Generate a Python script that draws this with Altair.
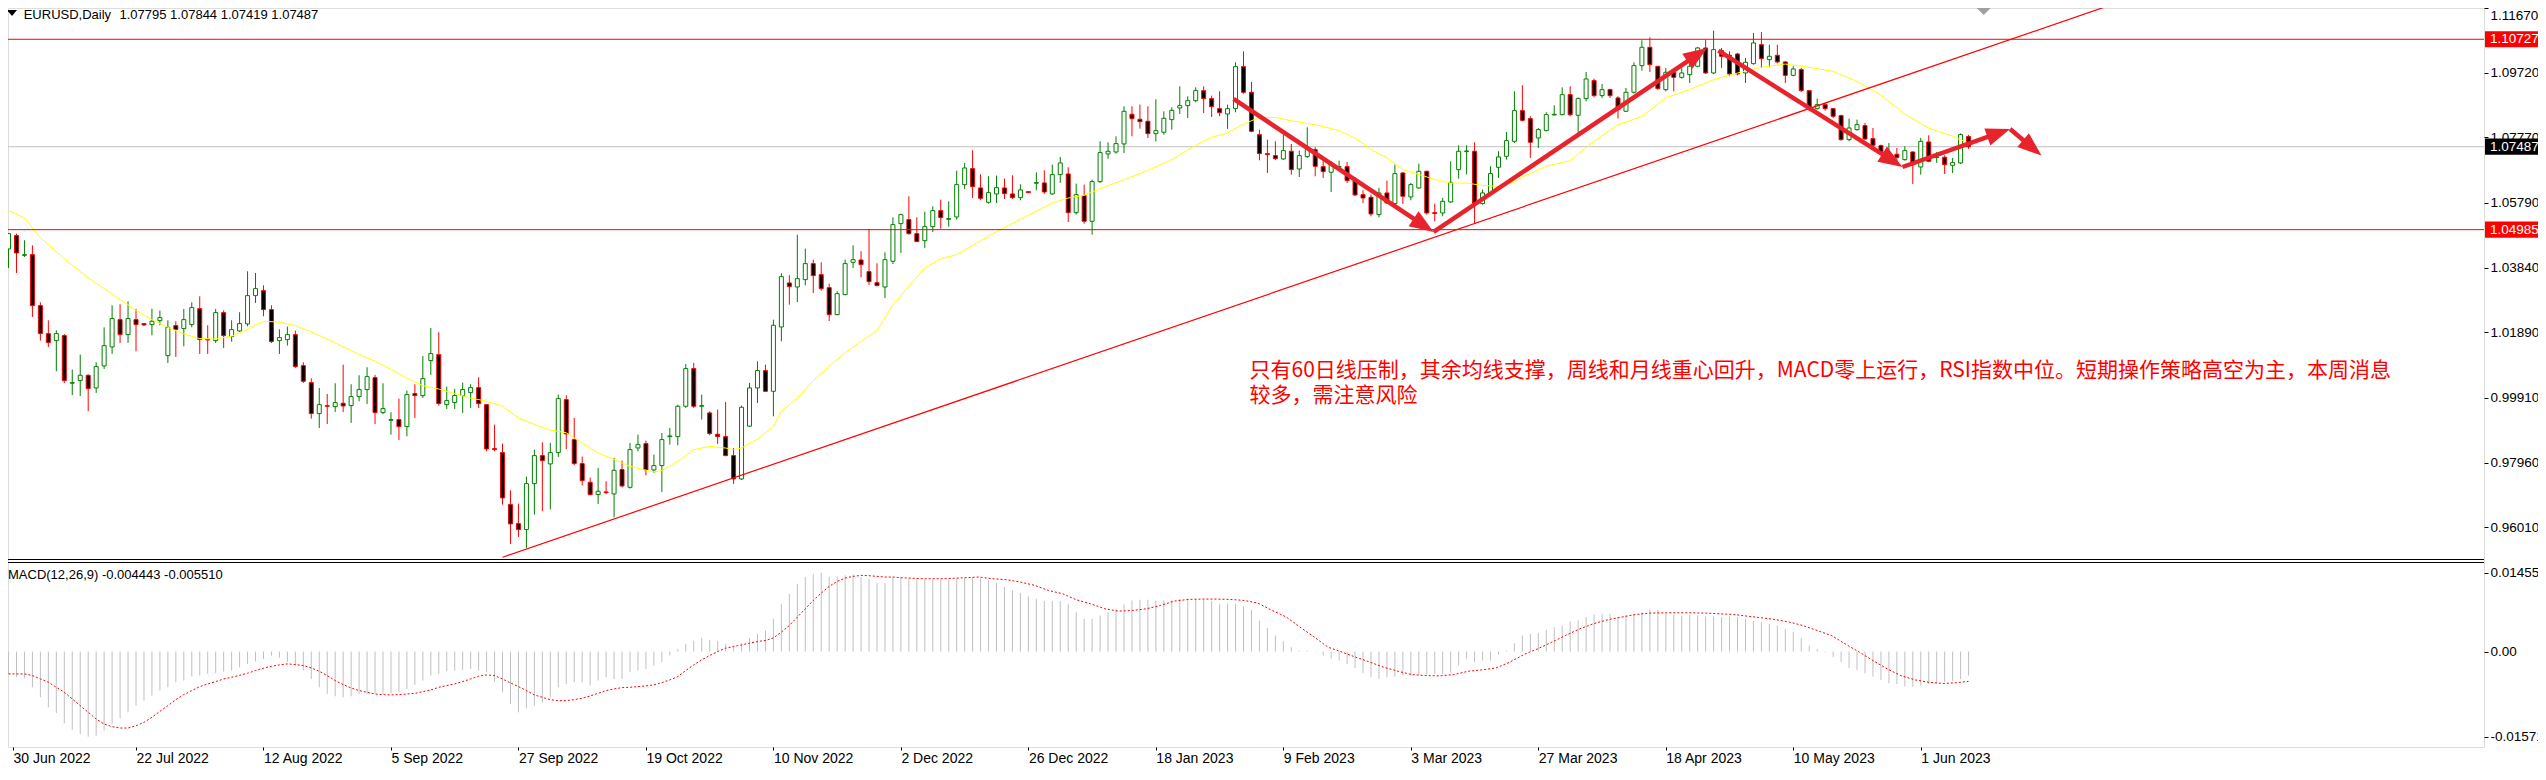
import math
import altair as alt
import pandas as pd

# ---------------- values ----------------
opens = [
    1.04404, 1.04806, 1.04210, 1.04233, 1.02695, 1.01850, 1.01639, 1.01790, 1.00353, 1.00433,
    1.00594, 1.00212, 1.00875, 1.01448, 1.02273, 1.01820, 1.02273, 1.02152, 1.02122, 1.02242,
    1.01187, 1.02092, 1.02001, 1.02122, 1.02604, 1.01679, 1.01639, 1.02484, 1.01760, 1.01930,
    1.02142, 1.02996, 1.03147, 1.02574, 1.01639, 1.01669, 1.01820, 1.00885, 1.00373, 0.99438,
    0.99679, 0.99649, 0.99750, 0.99679, 0.99950, 1.00162, 1.00524, 0.99468, 0.99237, 0.99257,
    0.99046, 1.00041, 0.99981, 1.01036, 1.01217, 0.99709, 0.99770, 0.99981, 1.00071, 1.00222,
    0.99709, 0.98382, 0.98262, 0.96694, 0.96121, 0.95940, 0.97327, 0.98171, 0.97920, 0.98262,
    0.99860, 0.98654, 0.97930, 0.97367, 0.96995, 0.97076, 0.97015, 0.97749, 0.97216, 0.98402,
    0.98533, 0.97739, 0.97870, 0.98744, 0.98744, 0.99659, 1.00795, 0.99659, 0.99458, 0.98815,
    0.98744, 0.98171, 0.97467, 0.99060, 1.00212, 1.00735, 1.00111, 1.02051, 1.03378, 1.03257,
    1.03478, 1.03961, 1.03630, 1.03237, 1.02423, 1.03026, 1.04001, 1.04071, 1.03720, 1.03388,
    1.03257, 1.04031, 1.05167, 1.05287, 1.04865, 1.04654, 1.05076, 1.05559, 1.05297, 1.05368,
    1.06343, 1.06826, 1.06243, 1.05811, 1.06062, 1.06243, 1.06062, 1.05951, 1.06132, 1.06384,
    1.06394, 1.06062, 1.06645, 1.06665, 1.05499, 1.06012, 1.05238, 1.06434, 1.07268, 1.07328,
    1.07570, 1.08464, 1.08314, 1.08253, 1.07881, 1.07922, 1.08304, 1.08655, 1.08726, 1.08876,
    1.09178, 1.08937, 1.08635, 1.08474, 1.08635, 1.09902, 1.09128, 1.07851, 1.07278, 1.07218,
    1.07117, 1.07349, 1.06816, 1.07188, 1.07399, 1.06886, 1.06716, 1.06866, 1.06886, 1.06464,
    1.06042, 1.05962, 1.05439, 1.06092, 1.05771, 1.06695, 1.05972, 1.06243, 1.06746, 1.05500,
    1.05489, 1.05821, 1.06796, 1.07339, 1.07349, 1.05771, 1.06092, 1.06866, 1.07198, 1.07650,
    1.08575, 1.08334, 1.07751, 1.07972, 1.08444, 1.08454, 1.09057, 1.08434, 1.08937, 1.09480,
    1.09027, 1.09208, 1.08957, 1.08555, 1.09128, 1.09932, 1.10485, 1.09912, 1.09208, 1.09731,
    1.09580, 1.09661, 1.09912, 1.10465, 1.09711, 1.10384, 1.10244, 1.10284, 1.09711, 1.09992,
    1.10565, 1.10113, 1.10244, 1.10043, 1.09640, 1.09811, 1.09178, 1.08635, 1.08756, 1.08635,
    1.08424, 1.07700, 1.08002, 1.08123, 1.07730, 1.07519, 1.07258, 1.07260, 1.07097, 1.07328,
    1.06876, 1.07630, 1.07158, 1.07168, 1.06926, 1.06997, 1.07795,
]
highs = [
    1.04886, 1.04866, 1.04665, 1.04514, 1.02795, 1.02252, 1.01951, 1.01840, 1.00765, 1.01217,
    1.00620, 1.00986, 1.02041, 1.02705, 1.02735, 1.02825, 1.02594, 1.02162, 1.02604, 1.02544,
    1.02252, 1.02222, 1.02594, 1.02795, 1.02976, 1.02102, 1.02594, 1.02554, 1.02252, 1.02494,
    1.03730, 1.03680, 1.03308, 1.02705, 1.01981, 1.02061, 1.01941, 1.00986, 1.00503, 1.00212,
    1.00031, 1.00353, 1.00916, 1.00323, 1.00594, 1.00835, 1.00604, 1.00353, 0.99478, 0.99890,
    1.00132, 1.00323, 1.01177, 1.02021, 1.01890, 1.00252, 1.00182, 1.00373, 1.00323, 1.00534,
    0.99729, 0.99106, 0.98533, 0.97126, 0.96724, 0.97538, 0.98352, 0.98573, 0.98553, 1.00010,
    0.99990, 0.99307, 0.98141, 0.97508, 0.97799, 0.97397, 0.98101, 0.98021, 0.98553, 0.98804,
    0.98623, 0.98201, 0.98855, 0.99006, 0.99709, 1.00935, 1.00966, 1.00010, 0.99508, 0.99558,
    0.99790, 0.98402, 0.99679, 1.00363, 1.01016, 1.00915, 1.02272, 1.03669, 1.03610, 1.04835,
    1.04413, 1.04081, 1.04001, 1.03357, 1.03126, 1.04081, 1.04513, 1.04333, 1.05006, 1.03971,
    1.04302, 1.05358, 1.05468, 1.05991, 1.05358, 1.05529, 1.05690, 1.05890, 1.05840, 1.06766,
    1.06997, 1.07379, 1.06655, 1.06595, 1.06615, 1.06524, 1.06625, 1.06353, 1.06152, 1.06715,
    1.06776, 1.06947, 1.07178, 1.06866, 1.06374, 1.06343, 1.06494, 1.07650, 1.07620, 1.07801,
    1.08706, 1.08706, 1.08756, 1.08706, 1.08917, 1.08555, 1.08676, 1.09309, 1.09007, 1.09279,
    1.09309, 1.09027, 1.09158, 1.08756, 1.10033, 1.10364, 1.09439, 1.08002, 1.07700, 1.07650,
    1.07851, 1.07570, 1.07369, 1.08073, 1.07469, 1.07067, 1.07047, 1.07067, 1.07027, 1.06565,
    1.06173, 1.06042, 1.06243, 1.06464, 1.06947, 1.06716, 1.06394, 1.06977, 1.06766, 1.05771,
    1.05942, 1.07047, 1.07530, 1.07530, 1.07620, 1.06193, 1.06897, 1.07349, 1.07931, 1.09158,
    1.09339, 1.08404, 1.08052, 1.08525, 1.08736, 1.09279, 1.09309, 1.08977, 1.09741, 1.09540,
    1.09379, 1.09238, 1.09007, 1.09258, 1.10033, 1.10696, 1.10786, 1.09912, 1.09862, 1.09862,
    1.09862, 1.10012, 1.10495, 1.10716, 1.10987, 1.10465, 1.10364, 1.10314, 1.10163, 1.10917,
    1.10947, 1.10565, 1.10565, 1.10063, 1.09912, 1.09862, 1.09178, 1.08937, 1.08806, 1.08655,
    1.08454, 1.08334, 1.08304, 1.08203, 1.08052, 1.07550, 1.07600, 1.07450, 1.07499, 1.07349,
    1.07751, 1.07831, 1.07330, 1.07228, 1.07148, 1.07891, 1.07844,
]
lows = [
    1.03831, 1.03680, 1.04162, 1.02353, 1.01639, 1.01448, 1.00715, 1.00363, 0.99993, 0.99971,
    0.99508, 1.00061, 1.00785, 1.01237, 1.01569, 1.01569, 1.01318, 1.02082, 1.01800, 1.02102,
    1.00966, 1.01147, 1.01468, 1.02041, 1.01237, 1.01237, 1.01569, 1.01418, 1.01609, 1.01900,
    1.02072, 1.02775, 1.02373, 1.01569, 1.01237, 1.01488, 1.00815, 1.00363, 0.99287, 0.99006,
    0.99126, 0.99488, 0.99488, 0.99156, 0.99810, 0.99730, 0.99126, 0.99428, 0.98805, 0.98644,
    0.98754, 0.99307, 0.99910, 1.00604, 0.99679, 0.99579, 0.99579, 0.99458, 0.99609, 0.99609,
    0.98302, 0.98302, 0.96694, 0.95508, 0.95719, 0.95387, 0.96392, 0.96498, 0.96548, 0.98131,
    0.98362, 0.97880, 0.97276, 0.96975, 0.96714, 0.97015, 0.96311, 0.97216, 0.97176, 0.98302,
    0.97578, 0.97648, 0.97076, 0.98503, 0.98483, 0.99609, 0.99609, 0.99257, 0.98785, 0.98523,
    0.98151, 0.97317, 0.97437, 0.99040, 0.99759, 1.00091, 0.99357, 1.01619, 1.02725, 1.02805,
    1.03307, 1.03076, 1.03146, 1.02232, 1.02402, 1.03006, 1.03830, 1.03548, 1.03317, 1.03277,
    1.02925, 1.03950, 1.04282, 1.04835, 1.04614, 1.04433, 1.04916, 1.05016, 1.05076, 1.05288,
    1.06213, 1.05941, 1.05871, 1.05770, 1.05790, 1.05911, 1.05911, 1.05871, 1.06092, 1.06173,
    1.06062, 1.06042, 1.06394, 1.05217, 1.05439, 1.05167, 1.04836, 1.06394, 1.07127, 1.07278,
    1.07298, 1.07801, 1.08032, 1.07750, 1.07650, 1.07851, 1.08002, 1.08474, 1.08354, 1.08826,
    1.08504, 1.08384, 1.08404, 1.08022, 1.08525, 1.09088, 1.07922, 1.07077, 1.06695, 1.07087,
    1.07087, 1.06645, 1.06575, 1.07148, 1.06595, 1.06545, 1.06122, 1.06796, 1.06394, 1.05992,
    1.05791, 1.05389, 1.05359, 1.05761, 1.05741, 1.05761, 1.05871, 1.06213, 1.05439, 1.05238,
    1.05389, 1.05791, 1.06525, 1.06650, 1.05180, 1.05741, 1.06062, 1.06545, 1.07097, 1.07600,
    1.08253, 1.07148, 1.07449, 1.07952, 1.08434, 1.08434, 1.08404, 1.07901, 1.08856, 1.08977,
    1.08957, 1.08957, 1.08334, 1.08535, 1.09088, 1.09781, 1.09741, 1.09208, 1.09158, 1.09158,
    1.09540, 1.09409, 1.09882, 1.09681, 1.09681, 1.09862, 1.09610, 1.09640, 1.09409, 1.09962,
    1.09862, 1.09882, 1.10002, 1.09409, 1.09610, 1.09138, 1.08555, 1.08605, 1.08575, 1.08354,
    1.07670, 1.07650, 1.07972, 1.07690, 1.07449, 1.07248, 1.07148, 1.07050, 1.07067, 1.06363,
    1.06645, 1.07017, 1.07000, 1.06665, 1.06695, 1.06967, 1.07419,
]
closes = [
    1.04866, 1.04283, 1.04230, 1.02695, 1.01850, 1.01579, 1.01850, 1.00433, 1.00373, 1.00594,
    1.00192, 1.00855, 1.01488, 1.02303, 1.01820, 1.02303, 1.02122, 1.02112, 1.02222, 1.02333,
    1.02041, 1.01971, 1.02273, 1.02634, 1.01669, 1.01659, 1.02484, 1.01790, 1.01971, 1.02152,
    1.02996, 1.03207, 1.02574, 1.01609, 1.01730, 1.01820, 1.00855, 1.00413, 0.99438, 0.99709,
    0.99659, 0.99770, 0.99669, 0.99950, 1.00162, 1.00554, 0.99468, 0.99589, 0.99257, 0.99046,
    1.00011, 0.99981, 1.00493, 1.01248, 0.99740, 0.99830, 0.99981, 1.00162, 1.00222, 0.99740,
    0.98372, 0.98352, 0.96895, 0.96111, 0.95940, 0.97327, 0.98171, 0.98020, 0.98262, 0.99890,
    0.98825, 0.97930, 0.97417, 0.96995, 0.97096, 0.97055, 0.97729, 0.97256, 0.98352, 0.98503,
    0.97739, 0.97870, 0.98654, 0.98764, 0.99659, 1.00795, 0.99659, 0.99679, 0.98835, 0.98744,
    0.98171, 0.97467, 0.99629, 1.00212, 1.00735, 1.00111, 1.02102, 1.03568, 1.03268, 1.03508,
    1.03961, 1.03599, 1.03207, 1.02423, 1.03056, 1.03961, 1.04081, 1.03930, 1.03418, 1.03297,
    1.04081, 1.05137, 1.05438, 1.04865, 1.04624, 1.05076, 1.05559, 1.05348, 1.05318, 1.06343,
    1.06846, 1.06283, 1.05931, 1.06102, 1.06253, 1.06072, 1.05951, 1.06183, 1.06102, 1.06404,
    1.06122, 1.06645, 1.06997, 1.05499, 1.06042, 1.05238, 1.06434, 1.07308, 1.07349, 1.07580,
    1.08555, 1.08334, 1.08243, 1.07881, 1.07972, 1.08344, 1.08585, 1.08726, 1.08876, 1.09178,
    1.08937, 1.08696, 1.08515, 1.08635, 1.09902, 1.09128, 1.07952, 1.07278, 1.07248, 1.07127,
    1.07369, 1.06796, 1.07218, 1.07399, 1.06896, 1.06736, 1.06997, 1.06886, 1.06464, 1.06032,
    1.05941, 1.05459, 1.06092, 1.05791, 1.06675, 1.05992, 1.06344, 1.06746, 1.05489, 1.05470,
    1.05841, 1.06414, 1.07349, 1.07359, 1.05750, 1.06092, 1.06675, 1.07178, 1.07670, 1.08575,
    1.08283, 1.07620, 1.08002, 1.08454, 1.08464, 1.09057, 1.08454, 1.08937, 1.09530, 1.09027,
    1.09208, 1.09027, 1.08605, 1.09128, 1.09932, 1.10485, 1.09962, 1.09238, 1.09731, 1.09580,
    1.09711, 1.09912, 1.10465, 1.09711, 1.10415, 1.10213, 1.09681, 1.09681, 1.10033, 1.10616,
    1.10143, 1.10213, 1.10043, 1.09640, 1.09831, 1.09178, 1.08675, 1.08756, 1.08635, 1.08404,
    1.07700, 1.08052, 1.08153, 1.07720, 1.07529, 1.07328, 1.07278, 1.07160, 1.07369, 1.06946,
    1.07650, 1.07047, 1.07178, 1.06946, 1.07007, 1.07851, 1.07487,
]

# yellow moving-average line (bar index, price)
ma_idx = [0, 2, 4, 7, 10, 12, 14, 16, 18, 20, 22, 24, 26, 28, 30, 31, 32, 34, 36, 38,
          40, 42, 44, 46, 48, 50, 52, 54, 56, 58, 60, 62, 64, 66, 68, 70, 72, 74, 76, 78,
          80, 81, 82, 84, 86, 88, 90, 91, 92, 94, 96, 97, 99, 101, 103, 105, 107, 109, 111, 113,
          115, 117, 119, 121, 123, 125, 128, 131, 133, 135, 137, 140, 143, 146, 149, 151, 153, 155, 157, 159,
          161, 163, 165, 167, 169, 171, 173, 175, 177, 179, 181, 183, 185, 187, 189, 190, 193, 196, 199, 202,
          205, 208, 211, 214, 217, 220, 223, 226, 229, 232, 235, 238, 241, 244, 246]
ma_val = [1.0556, 1.0534, 1.0474, 1.0411, 1.0353, 1.0321, 1.0288, 1.0255, 1.0227, 1.0204,
          1.0184, 1.0170, 1.0169, 1.0177, 1.0197, 1.0212, 1.0222, 1.0220, 1.0209, 1.0190,
          1.0169, 1.0145, 1.0122, 1.0102, 1.0077, 1.0051, 1.0028, 1.0018, 1.0004, 0.9991,
          0.9981, 0.9966, 0.9931, 0.9911, 0.9894, 0.9886, 0.9855, 0.9825, 0.9805, 0.9785,
          0.9773, 0.9768, 0.9772, 0.9800, 0.9835, 0.9845, 0.9840, 0.9835, 0.9840, 0.9867,
          0.9905, 0.9951, 0.9991, 1.0043, 1.0087, 1.0127, 1.0162, 1.0194, 1.0272, 1.0328,
          1.0383, 1.0411, 1.0423, 1.0451, 1.0479, 1.0505, 1.0542, 1.0579, 1.0594, 1.0602,
          1.0622, 1.0649, 1.0677, 1.0710, 1.0753, 1.0777, 1.0790, 1.0817, 1.0837, 1.0837,
          1.0827, 1.0819, 1.0810, 1.0797, 1.0775, 1.0740, 1.0715, 1.0680, 1.0665, 1.0650,
          1.0639, 1.0639, 1.0632, 1.0629, 1.0642, 1.0657, 1.0690, 1.0707, 1.0765, 1.0815,
          1.0840, 1.0896, 1.0921, 1.0951, 1.0971, 1.0988, 1.0998, 1.0988, 1.0976, 1.0946,
          1.0904, 1.0847, 1.0805, 1.0780, 1.0760]

# MACD(12,26,9) main values (histogram), one per bar
macd_main = [
    -0.00413, -0.00475, -0.00493, -0.00660, -0.00845, -0.01030, -0.01134, -0.01325, -0.01443, -0.01523,
    -0.015719, -0.01554, -0.01461, -0.01338, -0.01233, -0.01122, -0.00999, -0.00906, -0.00814, -0.00721,
    -0.00660, -0.00567, -0.00536, -0.00462, -0.00444, -0.00413, -0.00401, -0.00370, -0.00351, -0.00290,
    -0.00228, -0.00185, -0.00136, -0.00074, -0.00117, -0.00197, -0.00259, -0.00351, -0.00506, -0.00660,
    -0.00783, -0.00826, -0.00845, -0.00826, -0.00783, -0.00783, -0.00771, -0.00783, -0.00771, -0.00752,
    -0.00690, -0.00616, -0.00536, -0.00444, -0.00413, -0.00364, -0.00351, -0.00339, -0.00321, -0.00351,
    -0.00382, -0.00567, -0.00752, -0.00968, -0.01122, -0.01048, -0.00999, -0.00937, -0.00845, -0.00660,
    -0.00598, -0.00567, -0.00567, -0.00629, -0.00536, -0.00475, -0.00506, -0.00506, -0.00382, -0.00351,
    -0.00321, -0.00259, -0.00197, -0.00074, 0.00049, 0.00142, 0.00203, 0.00253, 0.00216, 0.00191,
    0.00142, 0.00111, 0.00154, 0.00253, 0.00327, 0.00388, 0.00604, 0.00882, 0.01067, 0.01251,
    0.01375, 0.01436, 0.014551, 0.01375, 0.01387, 0.01406, 0.01424, 0.01375, 0.01344, 0.01264,
    0.01264, 0.01375, 0.01375, 0.01344, 0.01332, 0.01325, 0.01325, 0.01325, 0.01325, 0.01344,
    0.01362, 0.01375, 0.01344, 0.01313, 0.01264, 0.01190, 0.01128, 0.01079, 0.01017, 0.00974,
    0.00931, 0.00931, 0.00931, 0.00882, 0.00727, 0.00604, 0.00604, 0.00666, 0.00727, 0.00789,
    0.00869, 0.00943, 0.00956, 0.00956, 0.00943, 0.00943, 0.00956, 0.00974, 0.00974, 0.00974,
    0.00956, 0.00931, 0.00882, 0.00882, 0.00882, 0.00832, 0.00771, 0.00573, 0.00432, 0.00296,
    0.00191, 0.00080, 0.00018, 0.00018, -0.00010, -0.00074, -0.00136, -0.00166, -0.00228, -0.00302,
    -0.00401, -0.00475, -0.00506, -0.00475, -0.00462, -0.00444, -0.00444, -0.00425, -0.00425, -0.00413,
    -0.00413, -0.00401, -0.00259, -0.00136, -0.00197, -0.00166, -0.00166, -0.00055, 0.00018, 0.00154,
    0.00296, 0.00327, 0.00339, 0.00401, 0.00450, 0.00481, 0.00555, 0.00573, 0.00635, 0.00684,
    0.00697, 0.00697, 0.00635, 0.00666, 0.00697, 0.00727, 0.00789, 0.00771, 0.00697, 0.00684,
    0.00666, 0.00684, 0.00666, 0.00647, 0.00647, 0.00635, 0.00647, 0.00635, 0.00604, 0.00561,
    0.00543, 0.00512, 0.00481, 0.00419, 0.00358, 0.00253, 0.00111, 0.00049, -0.00012, -0.00105,
    -0.00197, -0.00302, -0.00339, -0.00401, -0.00462, -0.00524, -0.00586, -0.00598, -0.00647, -0.00647,
    -0.00629, -0.00598, -0.00586, -0.00560, -0.00540, -0.00510, -0.004443,
]

# MACD signal (red dotted), read at these bar positions
signal_idx = list(range(112)) + [
    112.1, 114.8, 117.4, 120.0, 121.8, 123.5, 125.3, 127.0, 128.8, 130.5,
    132.3, 134.0, 135.8, 137.6, 139.3, 141.1, 142.8, 144.6, 146.3, 148.1,
    149.8, 151.6, 153.3, 155.1, 156.8, 158.6, 160.4, 162.1, 163.9, 165.6,
    167.4, 169.1, 170.9, 172.6, 174.4, 176.1, 177.9, 179.6, 181.4, 183.2,
    184.9, 186.7, 188.4, 190.2, 191.9, 193.7, 195.4, 197.2, 198.9, 200.7,
    202.4, 204.2, 205.9, 207.7, 209.5, 211.2, 213.0, 214.7, 216.5, 218.2,
    220.0, 221.7, 223.5, 225.2, 227.0, 228.8, 230.5, 232.3, 234.0, 235.8,
    237.5, 239.3, 241.0, 242.8, 244.5, 246.0]
signal_val = [
    -0.00413, -0.00413, -0.00413, -0.00444, -0.00506, -0.00567, -0.0066, -0.00752, -0.00875, -0.00999,
    -0.01122, -0.01245, -0.01338, -0.01387, -0.01412, -0.01412, -0.01369, -0.01307, -0.01214, -0.01104,
    -0.00999, -0.00888, -0.00795, -0.00721, -0.00647, -0.00598, -0.00555, -0.00506, -0.00475, -0.00438,
    -0.00401, -0.00351, -0.00308, -0.00271, -0.00247, -0.00228, -0.0024, -0.00259, -0.00302, -0.00364,
    -0.00444, -0.00536, -0.0061, -0.00672, -0.00721, -0.00752, -0.00783, -0.00795, -0.00801, -0.00795,
    -0.00783, -0.00771, -0.0074, -0.00709, -0.0066, -0.00629, -0.00598, -0.00555, -0.00506, -0.00456,
    -0.00432, -0.00444, -0.00506, -0.0058, -0.00647, -0.00721, -0.00801, -0.00845, -0.00888, -0.00906,
    -0.00906, -0.00888, -0.00863, -0.0082, -0.00771, -0.00721, -0.0069, -0.00666, -0.0066, -0.00647,
    -0.00635, -0.00616, -0.00573, -0.00524, -0.00462, -0.00351, -0.00247, -0.00154, -0.00074, 0.0,
    0.00062, 0.00092, 0.00123, 0.00154, 0.00185, 0.00203, 0.00253, 0.00358, 0.00481, 0.00635,
    0.00789, 0.00943, 0.01079, 0.01202, 0.01295, 0.01356, 0.01387, 0.01406, 0.014, 0.01387,
    0.01375, 0.01375,
    0.01362, 0.01344, 0.01344, 0.01362, 0.01375, 0.01344, 0.01325, 0.01282, 0.01221, 0.01128,
    0.01067, 0.00956, 0.00882, 0.00789, 0.00746, 0.00758, 0.00789, 0.00851, 0.00931, 0.00962,
    0.00968, 0.00968, 0.00962, 0.00943, 0.00894, 0.00758, 0.00635, 0.00450, 0.00265, 0.00080,
    -0.00012, -0.00105, -0.00197, -0.00290, -0.00364, -0.00425, -0.00444, -0.00450, -0.00425, -0.00364,
    -0.00339, -0.00302, -0.00197, -0.00055, 0.00049, 0.00173, 0.00296, 0.00419, 0.00512, 0.00586,
    0.00635, 0.00684, 0.00709, 0.00715, 0.00715, 0.00715, 0.00709, 0.00697, 0.00684, 0.00653,
    0.00623, 0.00592, 0.00543, 0.00481, 0.00388, 0.00296, 0.00142, -0.00012, -0.00166, -0.00321,
    -0.00444, -0.00524, -0.00567, -0.00590, -0.00575, -0.00551]

date_ticks = [0, 16, 32, 48, 64, 80, 96, 112, 128, 144, 160, 176, 192, 208, 224, 240]
date_labels = ["30 Jun 2022", "22 Jul 2022", "12 Aug 2022", "5 Sep 2022", "27 Sep 2022",
               "19 Oct 2022", "10 Nov 2022", "2 Dec 2022", "26 Dec 2022", "18 Jan 2023",
               "9 Feb 2023", "3 Mar 2023", "27 Mar 2023", "18 Apr 2023", "10 May 2023", "1 Jun 2023"]
price_ticks = [1.11670, 1.09720, 1.07770, 1.05790, 1.03840, 1.01890, 0.99910, 0.97960, 0.96010]
macd_ticks = [0.014551, 0.0, -0.015719]

level_prices = [1.10727, 1.04985]
bid_price = 1.07487
header_symbol = "EURUSD,Daily"
header_ohlc = "1.07795 1.07844 1.07419 1.07487"
macd_header = "MACD(12,26,9) -0.004443 -0.005510"

trend_idx = [62.0, 264.1]
trend_val = [0.95105, 1.11782]

arrow_from_idx = [153.75, 178.86, 214.6, 237.7, 251.2]
arrow_from_val = [1.08926, 1.04915, 1.10385, 1.06875, 1.08021]
arrow_to_idx = [178.86, 213.2, 237.7, 251.2, 255.15]
arrow_to_val = [1.04915, 1.10464, 1.06875, 1.08021, 1.07219]

note_lines = ["只有60日线压制，其余均线支撑，周线和月线重心回升，MACD零上运行，RSI指数中位。短期操作策略高空为主，本周消息",
              "较多，需注意风险"]
note_idx = [155.75, 155.75]
note_val = [1.00714, 0.99960]

shift_idx = 247.9

# ---------------- styling / layout ----------------
W, H = 2476, 739
X_DOM = [0.5625, 0.5625 + W / 8.0]
P_DOM = [0.95038, 1.11670]
P_RANGE = [551.5, 0]
M_DOM = [-0.015719, 0.014551]
M_RANGE = [728.7, 564.7]
GREEN = "#008000"
RED = "#FF0000"
ARROW = "#E8232B"
NOTE = "#FF0000"
FONT = "Liberation Sans"
HEAD_LEN = 24.0

KX = W / (X_DOM[1] - X_DOM[0])
KY = (P_RANGE[0] - P_RANGE[1]) / (P_DOM[1] - P_DOM[0])

n = min(len(opens), len(highs), len(lows), len(closes))
candles = pd.DataFrame({"i": list(range(n)), "o": opens[:n], "h": highs[:n],
                        "l": lows[:n], "c": closes[:n]})
is_up = candles["c"] >= candles["o"]
candles["line_col"] = [GREEN if u else RED for u in is_up]
candles["body_fill"] = ["#FFFFFF" if u else "#000000" for u in is_up]

ma_df = pd.DataFrame({"i": ma_idx, "p": ma_val})
macd_df = pd.DataFrame({"i": list(range(len(macd_main))), "v": macd_main, "z": [0.0] * len(macd_main)})
m = min(len(signal_idx), len(signal_val))
sig_df = pd.DataFrame({"i": signal_idx[:m], "v": signal_val[:m]})
levels_df = pd.DataFrame({"p": level_prices})
bid_df = pd.DataFrame({"p": [bid_price]})
trend_df = pd.DataFrame({"i": trend_idx, "p": trend_val})
note_df = pd.DataFrame({"i": note_idx, "p": note_val, "t": note_lines})

shafts, heads = [], []
for i1, p1, i2, p2 in zip(arrow_from_idx, arrow_from_val, arrow_to_idx, arrow_to_val):
    dx = (i2 - i1) * KX
    dy = -(p2 - p1) * KY
    L = math.hypot(dx, dy)
    ux, uy = dx / L, dy / L
    back = HEAD_LEN * 0.55
    shafts.append({"i1": i1, "p1": p1, "i2": i2 - ux * back / KX, "p2": p2 + uy * back / KY})
    heads.append({"i": i2, "p": p2, "ang": (math.degrees(math.atan2(ux, -uy)) + 360.0) % 360.0})
shaft_df = pd.DataFrame(shafts)
head_df = pd.DataFrame(heads)

box_df = pd.DataFrame({
    "p": [level_prices[0], level_prices[1], bid_price],
    "col": [RED, RED, "#000000"],
    "lbl": [f"{level_prices[0]:.5f}", f"{level_prices[1]:.5f}", f"{bid_price:.5f}"],
})

x_scale = alt.Scale(domain=X_DOM, nice=False, zero=False)
p_scale = alt.Scale(domain=P_DOM, range=P_RANGE, nice=False, zero=False)
m_scale = alt.Scale(domain=M_DOM, range=M_RANGE, nice=False, zero=False)

# the first date tick sits just left of the visible area; pin it to the left edge
axis_ticks = [max(t, X_DOM[0]) for t in date_ticks]
labels_js = "[" + ",".join("'" + s + "'" for s in date_labels) + "]"
x_axis = alt.Axis(values=axis_ticks, labelExpr=labels_js + "[round(datum.value / 16)]",
                  title=None, orient="bottom", domain=False, grid=False, ticks=True,
                  tickSize=3, tickColor="black", labelAlign="left", labelBaseline="top",
                  labelPadding=1, labelFontSize=14, labelFont=FONT, labelColor="black",
                  labelFlush=False, labelOverlap=False)
p_axis = alt.Axis(values=price_ticks, format=".5f", title=None, orient="right", domain=False,
                  grid=False, ticks=True, tickSize=4, tickColor="black", labelAlign="left",
                  labelBaseline={"condition": {"test": "datum.value > 1.116", "value": "top"},
                                 "value": "middle"},
                  labelPadding=2, labelFontSize=13.5, labelFont=FONT,
                  labelColor="black", labelFlush=False, labelOverlap=False)
m_axis = alt.Axis(values=macd_ticks,
                  labelExpr="datum.value == 0 ? '0.00' : (datum.value < 0 ? '-' + format(-datum.value, '.6f') : format(datum.value, '.6f'))",
                  title=None, orient="right", domain=False, grid=False, ticks=True, tickSize=4,
                  tickColor="black", labelAlign="left", labelBaseline="middle", labelPadding=2,
                  labelFontSize=13.5, labelFont=FONT, labelColor="black", labelFlush=False,
                  labelOverlap=False)


def X(f):
    return alt.X(f, type="quantitative", scale=x_scale, axis=x_axis)


def YP(f):
    return alt.Y(f, type="quantitative", scale=p_scale, axis=p_axis)


def YM(f):
    return alt.Y(f, type="quantitative", scale=m_scale, axis=m_axis)


bid_line = alt.Chart(bid_df).mark_rule(color="#C0C0C0", strokeWidth=1).encode(y=YP("p"))
wicks = alt.Chart(candles).mark_rule(strokeWidth=1, clip=True).encode(
    x=X("i"), y=YP("l"), y2="h", color=alt.Color("line_col:N", scale=None))
bodies = alt.Chart(candles).mark_bar(size=4, strokeWidth=1, clip=True).encode(
    x=X("i"), y=YP("o"), y2="c",
    fill=alt.Fill("body_fill:N", scale=None), stroke=alt.Stroke("line_col:N", scale=None))
ma_line = alt.Chart(ma_df).mark_line(color="#FFFF00", strokeWidth=1, clip=True).encode(x=X("i"), y=YP("p"))
levels = alt.Chart(levels_df).mark_rule(color=RED, strokeWidth=1).encode(y=YP("p"))
trend = alt.Chart(trend_df).mark_line(color=RED, strokeWidth=1.2, clip=True).encode(x=X("i"), y=YP("p"))
shaft_marks = alt.Chart(shaft_df).mark_rule(color=ARROW, strokeWidth=4.5, strokeCap="butt", clip=True).encode(
    x=X("i1"), y=YP("p1"), x2="i2", y2="p2")
head_marks = alt.Chart(head_df).mark_point(
    shape="M0,0L0.375,1L-0.375,1Z", size=(2 * HEAD_LEN) ** 2, filled=True, color=ARROW,
    opacity=1, strokeWidth=0, clip=True).encode(
    x=X("i"), y=YP("p"), angle=alt.Angle("ang:Q", scale=None))
note = alt.Chart(note_df).mark_text(align="left", baseline="middle", font="Noto Sans CJK SC",
                                    fontSize=21, color=NOTE).encode(x=X("i"), y=YP("p"), text="t:N")
boxes = alt.Chart(box_df).mark_point(shape="M-1,-0.3L1,-0.3L1,0.3L-1,0.3Z", size=54 * 54,
                                     filled=True, opacity=1, strokeWidth=0).encode(
    x=alt.value(W + 28), y=YP("p"), color=alt.Color("col:N", scale=None))
box_text = alt.Chart(box_df).mark_text(align="left", baseline="middle", color="white",
                                       font=FONT, fontSize=13.5).encode(
    x=alt.value(W + 6), y=YP("p"), text="lbl:N")
sep1 = alt.Chart(bid_df).mark_rule(color="black", strokeWidth=1).encode(y=alt.value(551.5))
sep2 = alt.Chart(bid_df).mark_rule(color="black", strokeWidth=1).encode(y=alt.value(554.5))
shift_mark = alt.Chart(pd.DataFrame({"i": [shift_idx]})).mark_point(
    shape="M-1,0L1,0L0,1Z", size=196, filled=True, color="#A0A0A0", opacity=1, strokeWidth=0).encode(
    x=X("i"), y=alt.value(0))
tri = alt.Chart(pd.DataFrame({"t": ["x"]})).mark_point(
    shape="M-1,-0.6L1,-0.6L0,0.6Z", size=100, filled=True, color="black", opacity=1, strokeWidth=0).encode(
    x=alt.value(4), y=alt.value(5))
head1 = alt.Chart(pd.DataFrame({"t": [header_symbol]})).mark_text(
    align="left", baseline="alphabetic", font=FONT, fontSize=13, color="black").encode(
    x=alt.value(15.7), y=alt.value(11.3), text="t:N")
head2 = alt.Chart(pd.DataFrame({"t": [header_ohlc]})).mark_text(
    align="left", baseline="alphabetic", font=FONT, fontSize=13, color="black").encode(
    x=alt.value(111.5), y=alt.value(11.3), text="t:N")

price_panel = alt.layer(bid_line, wicks, bodies, ma_line, levels, trend, shaft_marks, head_marks,
                        note, boxes, box_text, sep1, sep2, shift_mark, tri, head1, head2)

hist = alt.Chart(macd_df).mark_rule(color="#C0C0C0", strokeWidth=1, clip=True).encode(
    x=X("i"), y=YM("z"), y2="v")
sig = alt.Chart(sig_df).mark_line(color=RED, strokeWidth=1, strokeDash=[2, 2], clip=True).encode(
    x=X("i"), y=YM("v"))
mhead = alt.Chart(pd.DataFrame({"t": [macd_header]})).mark_text(
    align="left", baseline="alphabetic", font=FONT, fontSize=13, color="black").encode(
    x=alt.value(0), y=alt.value(571.3), text="t:N")
macd_panel = alt.layer(hist, sig, mhead)

chart = (
    alt.layer(price_panel, macd_panel)
    .resolve_scale(y="independent")
    .properties(width=W, height=H, autosize=alt.AutoSizeParams(type="none"),
                padding={"left": 0, "top": 0, "right": 54, "bottom": 19}, background="white")
    .configure_view(stroke="black", strokeWidth=1)
    .configure(font=FONT)
)

chart.save("out.html", embed_options={"renderer": "svg", "actions": False})
